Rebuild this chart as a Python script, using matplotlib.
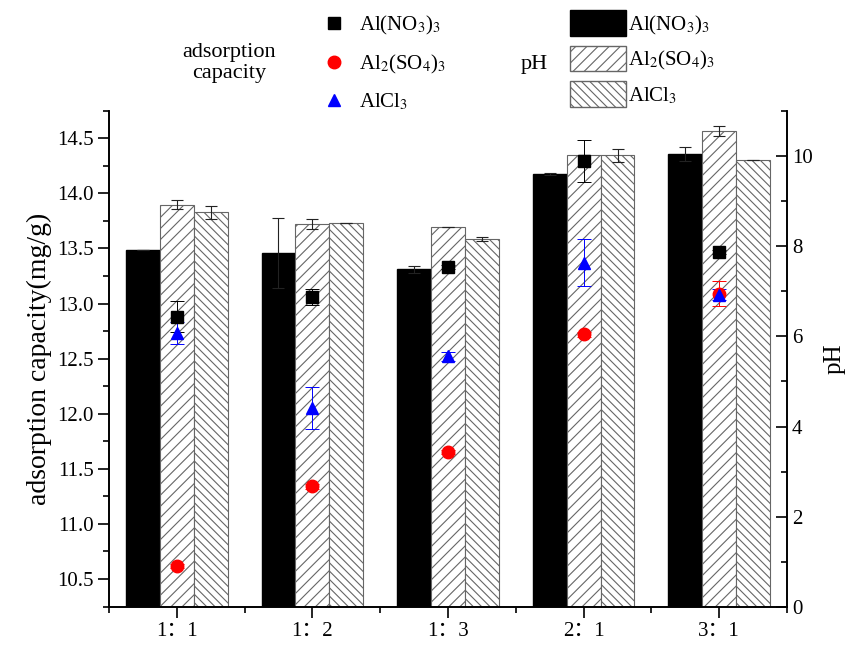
import matplotlib
matplotlib.use("Agg")
import matplotlib.pyplot as plt
from matplotlib.patches import Patch
from matplotlib.lines import Line2D
from matplotlib.ticker import MultipleLocator
import numpy as np

plt.rcParams['font.family'] = ['Liberation Serif', 'Noto Sans CJK SC']
plt.rcParams['mathtext.fontset'] = 'stix'
plt.rcParams['hatch.linewidth'] = 0.8

ratios = ['1：1', '1：2', '1：3', '2：1', '3：1']

# pH (bars, right axis)
ph_no3 = [7.92, 7.85, 7.48, 9.60, 10.04]
ph_no3_err = [0.0, 0.77, 0.07, 0.02, 0.15]
ph_so4 = [8.92, 8.48, 8.42, 10.01, 10.55]
ph_so4_err = [0.10, 0.11, 0.0, 0.0, 0.11]
ph_cl = [8.75, 8.52, 8.15, 10.01, 9.91]
ph_cl_err = [0.14, 0.0, 0.04, 0.14, 0.0]

# adsorption capacity (markers, left axis)
ads_no3 = [12.88, 13.06, 13.33, 14.29, 13.47]
ads_no3_err = [0.14, 0.075, 0.02, 0.19, 0.02]
ads_so4 = [10.62, 11.34, 11.65, 12.72, 13.09]
ads_so4_err = [0.02, 0.02, 0.02, 0.02, 0.11]
ads_cl = [12.73, 12.05, 12.52, 13.37, 13.08]
ads_cl_err = [0.10, 0.19, 0.04, 0.215, 0.05]

lab_no3 = r'Al(NO$_3$)$_3$'
lab_so4 = r'Al$_2$(SO$_4$)$_3$'
lab_cl = r'AlCl$_3$'

fig = plt.figure(figsize=(8.46, 6.48), dpi=100)
ax = fig.add_axes([0.1288, 0.0633, 0.8015, 0.7659])
ax2 = ax.twinx()

x = np.arange(len(ratios))
w = 0.25
ekw = dict(elinewidth=0.8, capthick=0.8, ecolor='#222222')
ax2.bar(x - w, ph_no3, w, color='black', edgecolor='black', yerr=ph_no3_err, capsize=4, error_kw=ekw)
ax2.bar(x, ph_so4, w, color='white', edgecolor='#666666', hatch='///', linewidth=0.8,
        yerr=ph_so4_err, capsize=4, error_kw=ekw)
ax2.bar(x + w, ph_cl, w, color='white', edgecolor='#666666', hatch='\\\\\\\\', linewidth=0.8,
        yerr=ph_cl_err, capsize=4, error_kw=ekw)

ax.errorbar(x, ads_no3, yerr=ads_no3_err, fmt='s', color='black', ms=8, capsize=5, elinewidth=0.7, capthick=0.7)
ax.errorbar(x, ads_so4, yerr=ads_so4_err, fmt='o', color='red', ms=9, capsize=5, elinewidth=0.7, capthick=0.7)
ax.errorbar(x, ads_cl, yerr=ads_cl_err, fmt='^', color='blue', ms=9, capsize=5, elinewidth=0.7, capthick=0.7)

ax.set_zorder(ax2.get_zorder() + 1)
ax.patch.set_visible(False)

ax.set_xlim(-0.5, 4.5)
ax.set_ylim(10.246, 14.75)
ax2.set_ylim(0, 11.0)

ax.set_xticks(x)
ax.set_xticklabels(ratios, fontsize=15)
ax.set_xticks(np.arange(-0.5, 4.6, 1.0), minor=True)
ax.set_yticks(np.arange(10.5, 14.51, 0.5))
ax.set_yticklabels(['%.1f' % v for v in np.arange(10.5, 14.51, 0.5)], fontsize=15)
ax.yaxis.set_minor_locator(MultipleLocator(0.25))
ax2.set_yticks(np.arange(0, 10.1, 2))
ax2.set_yticklabels(['%d' % v for v in np.arange(0, 10.1, 2)], fontsize=15)
ax2.yaxis.set_minor_locator(MultipleLocator(1))

ax.tick_params(axis='both', which='major', direction='out', length=8, width=1.2, pad=3)
ax.tick_params(axis='both', which='minor', direction='out', length=4, width=1.2)
ax2.tick_params(axis='y', which='major', direction='in', length=8, width=1.2)
ax2.tick_params(axis='y', which='minor', direction='in', length=4, width=1.2)

for a in (ax, ax2):
    a.spines['top'].set_visible(False)
    for s in ('left', 'right', 'bottom'):
        a.spines[s].set_linewidth(1.2)

ax.set_ylabel('adsorption capacity(mg/g)', fontsize=20, labelpad=4)
ax2.set_ylabel('pH', fontsize=18, labelpad=8)

# legends above the axes
mh = [Line2D([], [], ls='none', marker='s', color='black', ms=8),
      Line2D([], [], ls='none', marker='o', color='red', ms=9),
      Line2D([], [], ls='none', marker='^', color='blue', ms=9)]
leg1 = fig.legend(mh, [lab_no3, lab_so4, lab_cl], loc='upper left',
                  bbox_to_anchor=(0.37, 0.995), frameon=False, fontsize=15,
                  handlelength=1.0, handletextpad=0.7, labelspacing=0.76,
                  borderaxespad=0.1)
ph_handles = [Patch(facecolor='black', edgecolor='black'),
              Patch(facecolor='white', edgecolor='#666666', hatch='///'),
              Patch(facecolor='white', edgecolor='#666666', hatch='\\\\\\\\')]
leg2 = fig.legend(ph_handles, [lab_no3, lab_so4, lab_cl], loc='upper left',
                  bbox_to_anchor=(0.6615, 1.0), frameon=False, fontsize=15,
                  handlelength=2.7, handleheight=1.5, handletextpad=0.1,
                  labelspacing=0.45, borderaxespad=0.1)

fig.text(229 / 846, 1 - 63 / 648, 'adsorption\ncapacity', ha='center', va='center',
         fontsize=16, linespacing=1.15)
fig.text(534 / 846, 1 - 65 / 648, 'pH', ha='center', va='center', fontsize=16)

fig.savefig('out.png', dpi=100)
